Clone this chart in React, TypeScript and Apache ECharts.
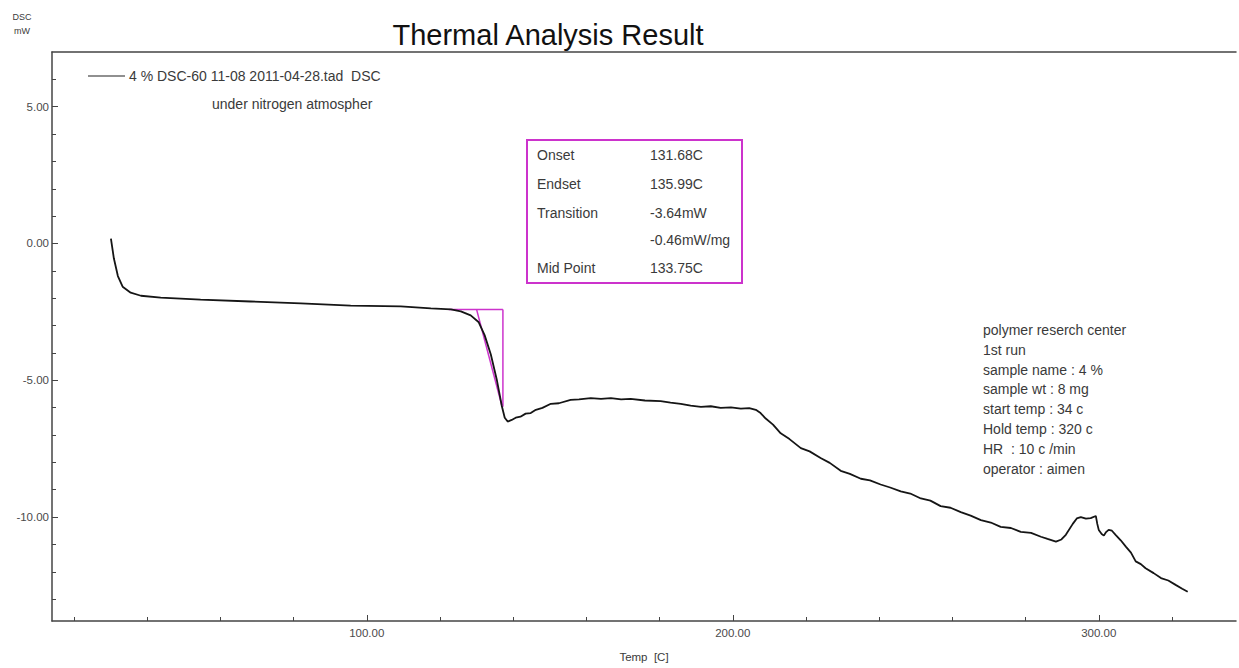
import React, { useEffect, useRef } from "react";
import * as echarts from "echarts";

const temps = [
  30.1, 30.9, 32.0, 33.3, 35.5, 38.3, 43.7, 54.6, 68.3, 82.0, 95.6, 109.3, 117.5, 123.0, 125.7, 128.4,
  130.6, 132.2, 133.9, 135.5, 136.9, 137.7, 138.5, 139.6, 140.7, 142.0, 143.4, 144.8, 146.2, 148.0,
  150.3, 152.5, 155.7, 158.0, 161.2, 164.0, 166.7, 169.5, 172.1, 176.0, 180.3, 183.0, 185.8, 188.5,
  191.3, 194.0, 196.7, 199.5, 202.2, 204.5, 206.3, 207.6, 209.0, 211.0, 213.1, 215.5, 218.6, 221.0,
  224.0, 226.5, 229.5, 232.0, 235.0, 237.5, 240.4, 243.0, 245.9, 248.5, 251.4, 254.0, 256.8, 259.5,
  262.3, 265.0, 267.8, 270.5, 273.2, 276.0, 278.7, 281.5, 284.2, 286.0, 288.3, 289.8, 291.0, 292.9,
  294.0, 295.1, 296.5, 297.8, 299.2, 299.6, 300.0, 300.8, 301.4, 302.0, 302.7, 303.6, 304.6, 306.0,
  307.4, 308.8, 310.1, 311.5, 312.8, 315.0, 317.0, 319.0, 321.0, 322.8, 324.3,
];
const dsc = [
  0.18, -0.54, -1.19, -1.58, -1.8, -1.91, -1.98, -2.05, -2.12, -2.19, -2.27, -2.3, -2.37, -2.41, -2.48, -2.63,
  -2.88, -3.35, -4.06, -4.96, -5.94, -6.37, -6.51, -6.45, -6.37, -6.33, -6.22, -6.2, -6.08, -6.01,
  -5.86, -5.84, -5.72, -5.7, -5.65, -5.68, -5.65, -5.7, -5.68, -5.74, -5.76, -5.82, -5.86, -5.93,
  -5.97, -5.95, -6.01, -5.99, -6.04, -6.02, -6.08, -6.2, -6.4, -6.62, -6.94, -7.15, -7.48, -7.6,
  -7.84, -8.02, -8.31, -8.42, -8.6, -8.66, -8.81, -8.92, -9.06, -9.14, -9.32, -9.4, -9.6, -9.66,
  -9.82, -9.95, -10.11, -10.2, -10.36, -10.4, -10.54, -10.58, -10.72, -10.8, -10.9, -10.82, -10.65, -10.25,
  -10.05, -10.0, -10.06, -10.04, -9.96, -10.25, -10.47, -10.62, -10.68, -10.55, -10.47, -10.5, -10.65, -10.85,
  -11.08, -11.3, -11.62, -11.72, -11.87, -12.05, -12.23, -12.32, -12.48, -12.62, -12.73,
];

const xMajorTicks = [100, 200, 300];
const xMinorTicks = [20, 40, 60, 80, 120, 140, 160, 180, 220, 240, 260, 280, 320];
const yMajorTicks = [5, 0, -5, -10];
const yMinorTicks = [-13, -12, -11, -9, -8, -7, -6, -4, -3, -2, -1, 1, 2, 3, 4, 6];

// transition construction (magenta)
const baselineX = [122.4, 137.2];
const baselineY = [-2.41, -2.41];
const tangentX = [130.0, 137.0];
const tangentY = [-2.41, -5.97];
const verticalX = [137.2, 137.2];
const verticalY = [-2.41, -5.97];

const resultRows = [
  ["Onset", "131.68C"],
  ["Endset", "135.99C"],
  ["Transition", "-3.64mW"],
  ["", "-0.46mW/mg"],
  ["Mid Point", "133.75C"],
];
const infoLines = [
  "polymer reserch center",
  "1st run",
  "sample name : 4 %",
  "sample wt : 8 mg",
  "start temp : 34 c",
  "Hold temp : 320 c",
  "HR  : 10 c /min",
  "operator : aimen",
];

const FONT = "'Liberation Sans', Arial, sans-serif";
const TXT = "#3a3a3a";
const MAG = "#cc33cc";
const AX = "#444";

export default function App() {
  const ref = useRef<HTMLDivElement>(null);
  useEffect(() => {
    if (!ref.current) return;
    const chart = echarts.init(ref.current, undefined, { renderer: "svg" });
    const pairs = (xs: number[], ys: number[]) => xs.map((x, i) => [x, ys[i]]);
    const rowYs = [155, 184, 213, 240, 268];
    const graphic: any[] = [
      { type: "text", style: { text: "Thermal Analysis Result", x: 548, y: 35, fontSize: 29, fontFamily: FONT, fill: "#111", textAlign: "center", textVerticalAlign: "middle" } },
      { type: "text", style: { text: "DSC", x: 22, y: 17, fontSize: 9, fontFamily: FONT, fill: TXT, textAlign: "center", textVerticalAlign: "middle" } },
      { type: "text", style: { text: "mW", x: 22, y: 31, fontSize: 9, fontFamily: FONT, fill: TXT, textAlign: "center", textVerticalAlign: "middle" } },
      { type: "line", shape: { x1: 88, y1: 76, x2: 125, y2: 76 }, style: { stroke: "#222", lineWidth: 1.2 } },
      { type: "text", style: { text: "4 % DSC-60 11-08 2011-04-28.tad  DSC", x: 129, y: 76, fontSize: 14, fontFamily: FONT, fill: TXT, textVerticalAlign: "middle" } },
      { type: "text", style: { text: "under nitrogen atmospher", x: 212, y: 104, fontSize: 14, fontFamily: FONT, fill: TXT, textVerticalAlign: "middle" } },
      { type: "rect", shape: { x: 527, y: 140, width: 215, height: 143 }, style: { stroke: MAG, lineWidth: 2, fill: "none" } },
    ];
    resultRows.forEach((r, i) => {
      if (r[0]) graphic.push({ type: "text", style: { text: r[0], x: 537, y: rowYs[i], fontSize: 14, fontFamily: FONT, fill: TXT, textVerticalAlign: "middle" } });
      graphic.push({ type: "text", style: { text: r[1], x: 650, y: rowYs[i], fontSize: 14, fontFamily: FONT, fill: TXT, textVerticalAlign: "middle" } });
    });
    infoLines.forEach((t, i) => {
      graphic.push({ type: "text", style: { text: t, x: 983, y: 330 + i * 19.8, fontSize: 14, fontFamily: FONT, fill: TXT, textVerticalAlign: "middle" } });
    });

    const magLine = (xs: number[], ys: number[]) => ({
      type: "line",
      data: pairs(xs, ys),
      showSymbol: false,
      silent: true,
      lineStyle: { color: MAG, width: 1.5 },
      z: 3,
    });

    chart.setOption({
      animation: false,
      backgroundColor: "#fff",
      grid: { left: 52, top: 52, right: 3, bottom: 39, containLabel: false },
      xAxis: [
        {
          type: "value", min: 14, max: 337.5, position: "bottom",
          axisLine: { show: true, onZero: false, lineStyle: { color: AX, width: 1.5 } },
          axisTick: { show: true, inside: true, length: 6, customValues: xMajorTicks, lineStyle: { color: AX } },
          axisLabel: { customValues: xMajorTicks, formatter: (v: number) => v.toFixed(2), fontSize: 11.5, fontFamily: FONT, color: "#4a4a4a", margin: 6 },
          splitLine: { show: false },
          name: "Temp  [C]", nameLocation: "middle", nameGap: 30,
          nameTextStyle: { fontSize: 11.5, fontFamily: FONT, color: TXT },
        },
        {
          type: "value", min: 14, max: 337.5, position: "bottom",
          axisLine: { show: false, onZero: false },
          axisTick: { show: true, inside: true, length: 4, customValues: xMinorTicks, lineStyle: { color: AX } },
          axisLabel: { show: false },
          splitLine: { show: false },
        },
        {
          type: "value", min: 14, max: 337.5, position: "top",
          axisLine: { show: true, onZero: false, lineStyle: { color: AX, width: 1.5 } },
          axisTick: { show: false }, axisLabel: { show: false }, splitLine: { show: false },
        },
      ],
      yAxis: [
        {
          type: "value", min: -13.8, max: 7, position: "left",
          axisLine: { show: true, onZero: false, lineStyle: { color: AX, width: 1.5 } },
          axisTick: { show: true, inside: true, length: 6, customValues: yMajorTicks, lineStyle: { color: AX } },
          axisLabel: { customValues: yMajorTicks, formatter: (v: number) => v.toFixed(2), fontSize: 11.5, fontFamily: FONT, color: "#4a4a4a", margin: 3 },
          splitLine: { show: false },
        },
        {
          type: "value", min: -13.8, max: 7, position: "left",
          axisLine: { show: false, onZero: false },
          axisTick: { show: true, inside: true, length: 4, customValues: yMinorTicks, lineStyle: { color: AX } },
          axisLabel: { show: false },
          splitLine: { show: false },
        },
      ],
      series: [
        {
          type: "line",
          data: pairs(temps, dsc),
          showSymbol: false,
          silent: true,
          lineStyle: { color: "#151515", width: 1.8 },
          z: 4,
        },
        magLine(baselineX, baselineY),
        magLine(tangentX, tangentY),
        magLine(verticalX, verticalY),
      ],
      graphic,
    });
    return () => chart.dispose();
  }, []);
  return <div ref={ref} style={{ position: "fixed", left: 0, top: 0, width: 1239, height: 668, background: "#fff" }} />;
}
